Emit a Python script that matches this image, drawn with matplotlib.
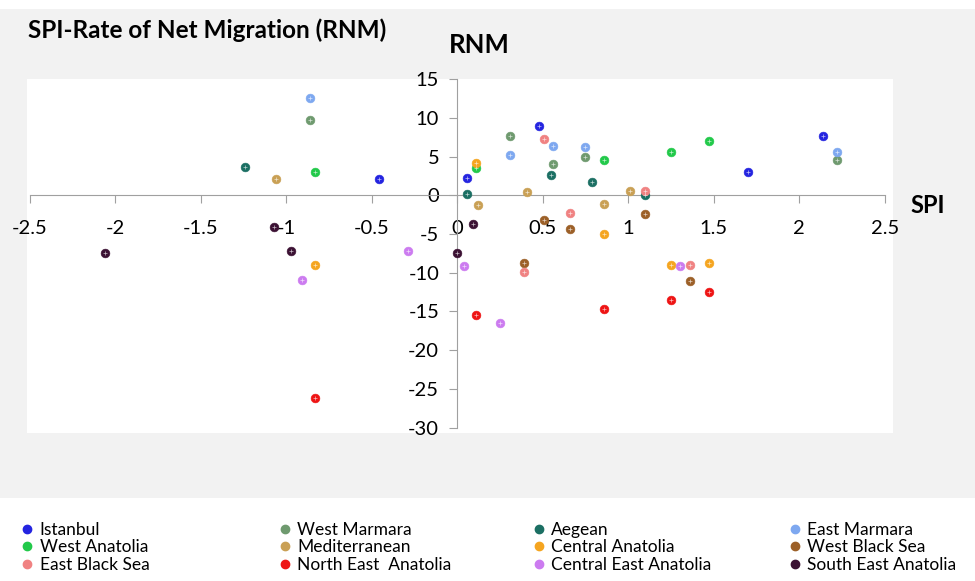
import matplotlib
matplotlib.use("Agg")
import matplotlib.pyplot as plt
from matplotlib.lines import Line2D
from matplotlib.patches import Rectangle

plt.rcParams['font.family'] = ['Lato', 'DejaVu Sans']

regions = ['Istanbul', 'West Marmara', 'Aegean', 'East Marmara',
           'West Anatolia', 'Mediterranean', 'Central Anatolia', 'West Black Sea',
           'East Black Sea', 'North East  Anatolia', 'Central East Anatolia',
           'South East Anatolia']
colors = ['#2424e0', '#6f9a6f', '#1b6f63', '#7ea8f0',
          '#22c94a', '#c9a055', '#f5a520', '#9c6028',
          '#f08282', '#ee1414', '#cc7bf0', '#3b1133']

# SPI (x) and RNM (y), five points per region
spi = [
    [-0.46, 0.06, 0.48, 2.14, 1.70],
    [-0.86, 0.31, 0.75, 0.56, 2.22],
    [-1.24, 0.06, 0.55, 0.79, 1.10],
    [-0.86, 0.56, 0.75, 0.31, 2.22],
    [-0.83, 0.11, 0.86, 1.25, 1.47],
    [-1.06, 0.12, 0.41, 1.01, 0.86],
    [0.11, -0.83, 0.86, 1.25, 1.47],
    [1.10, 0.51, 0.66, 0.39, 1.36],
    [0.51, 1.10, 0.66, 0.39, 1.36],
    [-0.83, 0.11, 0.86, 1.25, 1.47],
    [-0.29, -0.91, 0.04, 0.25, 1.30],
    [0.09, -1.07, -2.06, -0.97, 0.00],
]
rnm = [
    [2.15, 2.2, 9.0, 7.7, 3.0],
    [9.7, 7.7, 4.95, 4.0, 4.56],
    [3.65, 0.13, 2.6, 1.72, 0.05],
    [12.55, 6.4, 6.2, 5.2, 5.6],
    [3.0, 3.5, 4.56, 5.6, 7.05],
    [2.15, -1.25, 0.47, 0.56, -1.08],
    [4.1, -9.0, -5.0, -9.0, -8.8],
    [-2.4, -3.2, -4.4, -8.8, -11.1],
    [7.2, 0.6, -2.24, -9.9, -9.0],
    [-26.15, -15.4, -14.7, -13.5, -12.5],
    [-7.2, -11.0, -9.1, -16.5, -9.1],
    [-3.75, -4.1, -7.5, -7.2, -7.5],
]
xticks = [-2.5, -2, -1.5, -1, -0.5, 0, 0.5, 1, 1.5, 2, 2.5]
yticks = [15, 10, 5, 0, -5, -10, -15, -20, -25, -30]

fig = plt.figure(figsize=(9.75, 5.81), dpi=100)
fig.patch.set_facecolor('white')
# grey chart area and white plot area
fig.patches.append(Rectangle((0, 0.143), 1, 0.842, transform=fig.transFigure,
                             facecolor='#f2f2f2', edgecolor='none', zorder=-2))
fig.patches.append(Rectangle((0.0277, 0.2547), 0.888, 0.609, transform=fig.transFigure,
                             facecolor='white', edgecolor='none', zorder=-1))

ax = fig.add_axes([0.0305, 0.2638, 0.8769, 0.6002])
ax.set_zorder(2)
ax.patch.set_alpha(0)
ax.set_xlim(-2.5, 2.5)
ax.set_ylim(-30, 15)

for i in range(len(regions)):
    ax.scatter(spi[i], rnm[i], s=40, color=colors[i], edgecolors=colors[i],
               linewidths=0.4, zorder=3)
    ax.scatter(spi[i], rnm[i], s=5, marker='+', color='white', linewidths=0.5,
               alpha=0.7, zorder=4)

for s in ['top', 'right']:
    ax.spines[s].set_visible(False)
ax.spines['left'].set_position(('data', 0))
ax.spines['bottom'].set_position(('data', 0))
ax.spines['left'].set_color('#a0a0a0')
ax.spines['bottom'].set_color('#a0a0a0')
ax.set_xticks(xticks)
ax.set_yticks(yticks)
ax.set_xticklabels([('%g' % t) for t in xticks])
ax.set_yticklabels([('%g' % t) for t in yticks])
ax.tick_params(axis='x', direction='out', length=6, color='#a0a0a0', pad=12,
               labelsize=14.5)
ax.tick_params(axis='y', direction='out', length=6, color='#a0a0a0', pad=7,
               labelsize=14.5)

fig.text(0.029, 0.948, 'SPI-Rate of Net Migration (RNM)', fontsize=17.5,
         fontweight='bold', va='center', ha='left')
fig.text(0.492, 0.922, 'RNM', fontsize=18.5, fontweight='bold', va='center', ha='center')
fig.text(0.952, 0.647, 'SPI', fontsize=17, fontweight='bold', va='center', ha='center')

# legend: 4 columns, 3 rows
col_x = [0.021, 0.285, 0.546, 0.808]
for c in range(4):
    handles = []
    for r in range(3):
        k = r * 4 + c
        handles.append(Line2D([], [], linestyle='none', marker='o', markersize=6,
                              color=colors[k], label=regions[k]))
    fig.legend(handles=handles, loc='upper left', bbox_to_anchor=(col_x[c], 0.102),
               frameon=False, fontsize=12.5, handletextpad=0.3, labelspacing=0.1,
               handlelength=0.8, borderpad=0, borderaxespad=0)

fig.savefig('out.png', dpi=100, facecolor='white')
